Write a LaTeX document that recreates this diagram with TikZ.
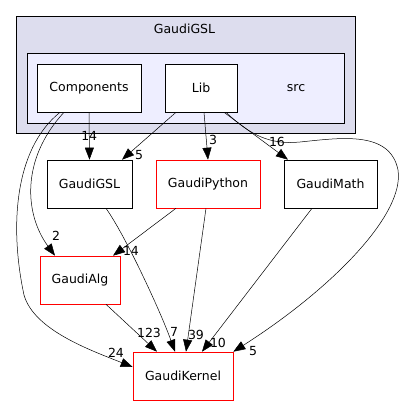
\documentclass[tikz,border=0pt]{standalone}
\usepackage{fontspec}
\setmainfont{DejaVu Sans}
\usetikzlibrary{arrows.meta}

\definecolor{outerfill}{HTML}{DDDDEE}
\definecolor{innerfill}{HTML}{EEEEFF}

\begin{document}
\begin{tikzpicture}[x=1pt, y=-1pt,
  txt/.style={font=\fontsize{12.5}{14}\selectfont},
  dirbox/.style={txt, draw=black, fill=white, line width=0.6pt,
    minimum width=#1, minimum height=48pt, inner sep=0pt},
  extbox/.style={dirbox=#1, draw=red},
  dep/.style={line width=0.5pt, -{Triangle[length=12pt, width=9pt]}},
  lbl/.style={txt, inner sep=0pt}]
  \useasboundingbox (0,0) rectangle (403,405);

  % Clusters
  \draw[fill=outerfill, line width=0.6pt] (16,16) rectangle (355,133);
  \node[txt] (top) at (184.5,29) {GaudiGSL};
  \draw[fill=innerfill, line width=0.6pt] (27,53) rectangle (344,123);
  \node[txt] (src) at (296,88) {src};

  % Directories inside src
  \node[dirbox=104pt] (comp) at (89,88) {Components};
  \node[dirbox=72pt] (lib) at (201,88) {Lib};

  % Other directories
  \node[dirbox=85pt] (gsl) at (89.5,184) {GaudiGSL};
  \node[extbox=104pt] (python) at (208,184) {GaudiPython};
  \node[dirbox=93pt] (math) at (330.5,184) {GaudiMath};
  \node[extbox=80pt] (alg) at (80,280) {GaudiAlg};
  \node[extbox=100pt] (kernel) at (183,376) {GaudiKernel};

  % Dependencies from src
  \draw[dep] (comp.south) -- node[lbl, at={(96.5,140.5)}] {14} (gsl.north);
  \draw[dep] ([xshift=-25pt]comp.south)
    .. controls (20,160) and (25,215) .. ([xshift=-25pt]alg.north)
    node[lbl, at={(56,236)}] {2};
  \draw[dep] ([xshift=-29pt]comp.south)
    .. controls (13,150) and (10,230) .. (24,295)
    .. controls (34,330) and (90,350) .. ([yshift=9pt]kernel.west)
    node[lbl, at={(116,353)}] {24};
  \draw[dep] ([xshift=-25pt]lib.south) -- ([xshift=32.5pt]gsl.north)
    node[lbl, at={(139,155)}] {5};
  \draw[dep] ([xshift=3pt]lib.south) -- (python.north)
    node[lbl, at={(213,140)}] {3};
  \draw[dep] ([xshift=23pt]lib.south) -- ([xshift=-42.5pt]math.north)
    node[lbl, at={(277,142)}] {16};
  \draw[dep] ([xshift=25pt]lib.south)
    .. controls (250,135) and (270,145) .. (300,142)
    .. controls (340,138) and (390,130) .. (398,170)
    .. controls (405,215) and (330,290) .. (kernel.north east)
    node[lbl, at={(253,351)}] {5};

  % Dependencies below
  \draw[dep] ([xshift=16.5pt]gsl.south)
    .. controls (125,235) and (160,310) .. ([xshift=-8pt]kernel.north)
    node[lbl, at={(174,332)}] {7};
  \draw[dep] ([xshift=-32pt]python.south) -- ([xshift=33pt]alg.north)
    node[lbl, at={(131,251)}] {14};
  \draw[dep] ([xshift=-2pt]python.south) -- ([xshift=3pt]kernel.north)
    node[lbl, at={(196,335)}] {39};
  \draw[dep] ([xshift=-18.5pt]math.south) -- ([xshift=19pt]kernel.north)
    node[lbl, at={(218,343)}] {10};
  \draw[dep] ([xshift=26pt]alg.south) -- ([xshift=-26pt]kernel.north)
    node[lbl, at={(149,333)}] {123};
\end{tikzpicture}
\end{document}
